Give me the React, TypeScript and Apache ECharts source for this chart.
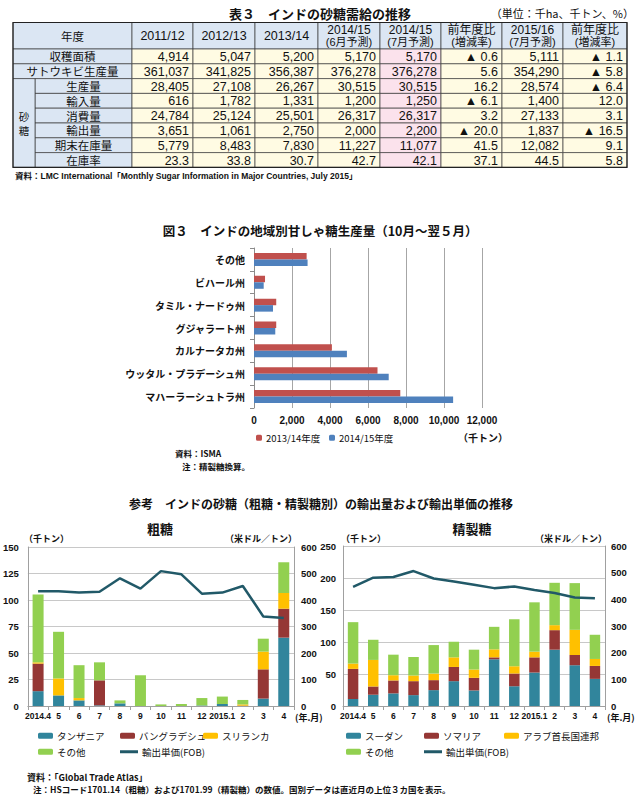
import React, { useEffect, useRef } from 'react';
import * as echarts from 'echarts';

const JP = '"Noto Sans CJK JP", "Noto Sans", sans-serif';
const NUM = '"Liberation Sans Narrow", "Liberation Sans", "Noto Sans CJK JP", sans-serif';

// ---------- Table 3 ----------
const tableTitle = '表３　インドの砂糖需給の推移';
const tableUnit = '（単位：千ha、千トン、%）';
const tableCorner = '年度';
const tableHeaders = [['2011/12'], ['2012/13'], ['2013/14'], ['2014/15', '(6月予測)'], ['2014/15', '(7月予測)'], ['前年度比', '(増減率)'], ['2015/16', '(7月予測)'], ['前年度比', '(増減率)']];
const rowLabels = ['収穫面積', 'サトウキビ生産量', '生産量', '輸入量', '消費量', '輸出量', '期末在庫量', '在庫率'];
const sugarGroupLabel = ['砂', '糖'];
const harvestArea = ['4,914', '5,047', '5,200', '5,170', '5,170', '▲ 0.6', '5,111', '▲ 1.1'];
const caneProduction = ['361,037', '341,825', '356,387', '376,278', '376,278', '5.6', '354,290', '▲ 5.8'];
const sugarProduction = ['28,405', '27,108', '26,267', '30,515', '30,515', '16.2', '28,574', '▲ 6.4'];
const sugarImports = ['616', '1,782', '1,331', '1,200', '1,250', '▲ 6.1', '1,400', '12.0'];
const sugarConsumption = ['24,784', '25,124', '25,501', '26,317', '26,317', '3.2', '27,133', '3.1'];
const sugarExports = ['3,651', '1,061', '2,750', '2,000', '2,200', '▲ 20.0', '1,837', '▲ 16.5'];
const endingStocks = ['5,779', '8,483', '7,830', '11,227', '11,077', '41.5', '12,082', '9.1'];
const stockRatio = ['23.3', '33.8', '30.7', '42.7', '42.1', '37.1', '44.5', '5.8'];
const tableSource = '資料：LMC International「Monthly Sugar Information in Major Countries, July 2015」';

// ---------- Figure 3 ----------
const fig3Title = '図３　インドの地域別甘しゃ糖生産量（10月～翌５月）';
const regions = ['その他', 'ビハール州', 'タミル・ナードゥ州', 'グジャラート州', 'カルナータカ州', 'ウッタル・プラデーシュ州', 'マハーラーシュトラ州'];
const prod1314 = [2770, 580, 1170, 1170, 4100, 6500, 7700];
const prod1415 = [2820, 510, 1000, 1120, 4890, 7090, 10480];
const fig3Names = ['2013/14年度', '2014/15年度'];
const fig3Unit = '（千トン）';
const fig3Source = '資料：ISMA';
const fig3Note = '注：精製糖換算。';

// ---------- Reference charts ----------
const refTitle = '参考　インドの砂糖（粗糖・精製糖別）の輸出量および輸出単価の推移';
const months = ['2014.4', '5', '6', '7', '8', '9', '10', '11', '12', '2015.1', '2', '3', '4'];
const rawTanzania = [14, 10, 5.3, 0.6, 2.5, 0, 0, 0, 0.5, 1.9, 0, 7, 64.5];
const rawBangladesh = [26, 0, 0, 23.6, 0, 0, 0, 0, 0, 0, 0.3, 27.6, 27.3];
const rawSriLanka = [1.2, 16, 2.2, 0, 0, 0, 0, 0, 0, 0, 1.2, 16.7, 14.8];
const rawOther = [64, 44, 31, 17, 2.8, 29, 1.5, 1.9, 7, 7, 4.2, 12.2, 29];
const rawPrice = [433, 433, 428, 431, 482, 443, 509, 497, 424, 428, 453, 338, 332];
const refSudan = [10.9, 17.6, 19.7, 17, 24.8, 38.8, 24.3, 73, 31, 52.3, 88, 63.7, 42.4];
const refSomalia = [47.1, 12.9, 20.2, 21.8, 15.6, 22.2, 19.7, 3, 19.7, 23.7, 30.5, 16, 20.2];
const refUAE = [8.3, 41.5, 8.2, 8.8, 10.3, 15, 13, 12.5, 11.3, 8.9, 7.8, 39.3, 10.9];
const refOther = [64.7, 31.5, 32.1, 29, 44.5, 24.4, 31, 35.2, 73.6, 77.1, 66.2, 73, 37.8];
const refPrice = [447, 481, 484, 506, 478, 467, 455, 442, 448, 435, 424, 407, 404];
const rawNames = ['タンザニア', 'バングラデシュ', 'スリランカ', 'その他'];
const refNames = ['スーダン', 'ソマリア', 'アラブ首長国連邦', 'その他'];
const priceName = '輸出単価(FOB)';
const footSource = '資料：「Global Trade Atlas」';
const footNote = '注：HSコード1701.14（粗糖）および1701.99（精製糖）の数値。国別データは直近月の上位３カ国を表示。';

const C_TEAL = '#31859c';
const C_RED = '#953735';
const C_YEL = '#ffc000';
const C_GRN = '#92d050';
const C_LINE = '#215968';

function buildTable(): any[] {
  const rows = [harvestArea, caneProduction, sugarProduction, sugarImports, sugarConsumption, sugarExports, endingStocks, stockRatio];
  const colX = [13, 132, 193, 255, 318, 380, 441, 502, 563, 627];
  const hTop = 22.5;
  const hBot = 49;
  const rh = 14.8;
  const blue = '#dbe6f3';
  const yellow = '#fffbe3';
  const pink = '#fbe2ec';
  const stroke = '#3a3a3a';
  const els: any[] = [];
  const cell = (x0: number, y0: number, x1: number, y1: number, fill: string) =>
    els.push({ type: 'rect', shape: { x: x0, y: y0, width: x1 - x0, height: y1 - y0 }, style: { fill, stroke, lineWidth: 0.7 } });
  const txt = (x: number, y: number, text: string, align: string, font: string, size = 12) =>
    els.push({ type: 'text', x, y, style: { text, fill: '#111', font: `${size}px ${font}`, textAlign: align, textVerticalAlign: 'middle' } });
  // header
  cell(colX[0], hTop, colX[1], hBot, blue);
  txt((colX[0] + colX[1]) / 2, (hTop + hBot) / 2, tableCorner, 'center', JP, 11.5);
  tableHeaders.forEach((h, j) => {
    cell(colX[j + 1], hTop, colX[j + 2], hBot, blue);
    const cx = (colX[j + 1] + colX[j + 2]) / 2;
    if (h.length === 1) {
      txt(cx, (hTop + hBot) / 2 + 0.5, h[0], 'center', NUM, 12.5);
    } else {
      txt(cx, hTop + 7.5, h[0], 'center', NUM, 12);
      txt(cx, hTop + 19.5, h[1], 'center', NUM, 11);
    }
  });
  rows.forEach((r, i) => {
    const y0 = hBot + i * rh;
    const y1 = y0 + rh;
    const lx = i < 2 ? colX[0] : 35;
    cell(lx, y0, colX[1], y1, blue);
    txt((lx + colX[1]) / 2, (y0 + y1) / 2, rowLabels[i], 'center', JP, 11.5);
    r.forEach((v, j) => {
      cell(colX[j + 1], y0, colX[j + 2], y1, j === 4 ? pink : yellow);
      txt(colX[j + 2] - 4, (y0 + y1) / 2 + 0.5, v, 'right', NUM, 12.5);
    });
  });
  const gy0 = hBot + 2 * rh;
  const gy1 = hBot + 8 * rh;
  cell(colX[0], gy0, 35, gy1, blue);
  const gm = (gy0 + gy1) / 2;
  txt(24, gm - 7, sugarGroupLabel[0], 'center', JP, 10.5);
  txt(24, gm + 7, sugarGroupLabel[1], 'center', JP, 10.5);
  els.push({ type: 'rect', shape: { x: colX[0], y: hTop, width: colX[9] - colX[0], height: gy1 - hTop }, style: { fill: 'none', stroke: '#222', lineWidth: 1.2 } });
  return els;
}

function text(x: number, y: number, t: string, size: number, align = 'left', weight = 'normal', font = JP) {
  return { type: 'text', x, y, style: { text: t, fill: '#111', font: `${weight} ${size}px ${font}`, textAlign: align, textVerticalAlign: 'middle' } };
}

function legendItem(name: string, left: number, top: number, w = 15, h = 6, icon?: string) {
  return {
    data: [icon ? { name, icon } : name], left, top, itemWidth: w, itemHeight: h, itemGap: 0, selectedMode: false, padding: 0,
    textStyle: { fontSize: 9.5, color: '#111', fontFamily: JP, padding: [0, 0, 0, -1] },
  };
}

const axisGray = '#a0a0a0';
const gridGray = '#c8c8c8';

export default function App() {
  const ref = useRef<HTMLDivElement>(null);
  useEffect(() => {
    if (!ref.current) return;
    const chart = echarts.init(ref.current, undefined, { renderer: 'svg' });
    const valLabel = { fontSize: 9.5, color: '#111', fontFamily: NUM, fontWeight: 'bold' };
    const catLabel = { fontSize: 8.5, color: '#111', fontFamily: NUM, fontWeight: 'bold' };
    const option: any = {
      animation: false,
      backgroundColor: '#ffffff',
      grid: [
        { left: 254, top: 248, width: 228, height: 160 },
        { left: 25, top: 547, width: 269, height: 159 },
        { left: 343, top: 546, width: 262, height: 160 },
      ],
      xAxis: [
        {
          gridIndex: 0, type: 'value', min: 0, max: 12000, interval: 2000,
          axisLine: { show: false }, axisTick: { show: false },
          splitLine: { show: true, lineStyle: { color: '#a6a6a6', width: 1 } },
          axisLabel: { ...valLabel, fontSize: 10, margin: 7, formatter: (v: number) => v.toLocaleString('en-US') },
        },
        {
          gridIndex: 1, type: 'category', data: months,
          axisLine: { lineStyle: { color: axisGray } },
          axisTick: { show: true, length: 4, lineStyle: { color: axisGray } },
          axisLabel: { ...catLabel, interval: 0, margin: 6 },
        },
        {
          gridIndex: 2, type: 'category', data: months,
          axisLine: { lineStyle: { color: axisGray } },
          axisTick: { show: true, length: 4, lineStyle: { color: axisGray } },
          axisLabel: { ...catLabel, interval: 0, margin: 6 },
        },
      ],
      yAxis: [
        {
          gridIndex: 0, type: 'category', data: regions, inverse: true,
          axisLine: { show: true, lineStyle: { color: '#8c8c8c' } },
          axisTick: { show: true, length: 4, lineStyle: { color: '#8c8c8c' } },
          axisLabel: { fontSize: 10, fontWeight: 'bold', color: '#111', fontFamily: JP, margin: 9 },
        },
        {
          gridIndex: 1, type: 'value', min: 0, max: 150, interval: 25, position: 'left',
          axisLine: { show: true, lineStyle: { color: axisGray } }, axisTick: { show: false },
          splitLine: { show: true, lineStyle: { color: gridGray } },
          axisLabel: { ...valLabel, margin: 9 },
        },
        {
          gridIndex: 1, type: 'value', min: 0, max: 600, interval: 100, position: 'right',
          axisLine: { show: true, lineStyle: { color: axisGray } }, axisTick: { show: false },
          splitLine: { show: false },
          axisLabel: { ...valLabel, margin: 7 },
        },
        {
          gridIndex: 2, type: 'value', min: 0, max: 250, interval: 50, position: 'left',
          axisLine: { show: true, lineStyle: { color: axisGray } }, axisTick: { show: false },
          splitLine: { show: true, lineStyle: { color: gridGray } },
          axisLabel: { ...valLabel, margin: 7 },
        },
        {
          gridIndex: 2, type: 'value', min: 0, max: 600, interval: 100, position: 'right',
          axisLine: { show: true, lineStyle: { color: axisGray } }, axisTick: { show: false },
          splitLine: { show: false },
          axisLabel: { ...valLabel, margin: 6 },
        },
      ],
      legend: [
        legendItem(fig3Names[0], 256, 433, 6, 6),
        legendItem(fig3Names[1], 329, 433, 6, 6),
        legendItem(rawNames[0], 38, 731),
        legendItem(rawNames[1], 120, 731),
        legendItem(rawNames[2], 203, 731),
        legendItem(rawNames[3], 38, 747),
        legendItem(priceName, 120, 747, 18, 3, 'rect'),
        legendItem(refNames[0], 346, 731),
        legendItem(refNames[1], 424, 731),
        legendItem(refNames[2], 504, 731),
        legendItem(refNames[3], 346, 747),
        legendItem(priceName, 424, 747, 18, 3, 'rect'),
      ],
      series: [
        { type: 'bar', name: fig3Names[0], xAxisIndex: 0, yAxisIndex: 0, data: prod1314, barWidth: 6.5, barGap: '0%', itemStyle: { color: '#c0504d' } },
        { type: 'bar', name: fig3Names[1], xAxisIndex: 0, yAxisIndex: 0, data: prod1415, barWidth: 6.5, barGap: '0%', itemStyle: { color: '#4f81bd' } },
        { type: 'bar', name: rawNames[0], xAxisIndex: 1, yAxisIndex: 1, stack: 'raw', data: rawTanzania, barWidth: 11, itemStyle: { color: C_TEAL } },
        { type: 'bar', name: rawNames[1], xAxisIndex: 1, yAxisIndex: 1, stack: 'raw', data: rawBangladesh, barWidth: 11, itemStyle: { color: C_RED } },
        { type: 'bar', name: rawNames[2], xAxisIndex: 1, yAxisIndex: 1, stack: 'raw', data: rawSriLanka, barWidth: 11, itemStyle: { color: C_YEL } },
        { type: 'bar', name: rawNames[3], xAxisIndex: 1, yAxisIndex: 1, stack: 'raw', data: rawOther, barWidth: 11, itemStyle: { color: C_GRN } },
        { type: 'line', name: priceName, xAxisIndex: 1, yAxisIndex: 2, data: rawPrice, symbol: 'none', z: 5, lineStyle: { color: C_LINE, width: 2.5 }, itemStyle: { color: C_LINE } },
        { type: 'bar', name: refNames[0], xAxisIndex: 2, yAxisIndex: 3, stack: 'ref', data: refSudan, barWidth: 10.5, itemStyle: { color: C_TEAL } },
        { type: 'bar', name: refNames[1], xAxisIndex: 2, yAxisIndex: 3, stack: 'ref', data: refSomalia, barWidth: 10.5, itemStyle: { color: C_RED } },
        { type: 'bar', name: refNames[2], xAxisIndex: 2, yAxisIndex: 3, stack: 'ref', data: refUAE, barWidth: 10.5, itemStyle: { color: C_YEL } },
        { type: 'bar', name: refNames[3], xAxisIndex: 2, yAxisIndex: 3, stack: 'ref', data: refOther, barWidth: 10.5, itemStyle: { color: C_GRN } },
        { type: 'line', name: priceName, xAxisIndex: 2, yAxisIndex: 4, data: refPrice, symbol: 'none', z: 5, lineStyle: { color: C_LINE, width: 2.5 }, itemStyle: { color: C_LINE } },
      ],
      graphic: [
        text(320, 13, tableTitle, 13, 'center', 'bold'),
        text(634, 13, tableUnit, 11, 'right'),
        ...buildTable(),
        text(15, 176, tableSource, 8.5, 'left', 'bold', NUM),
        text(320, 230, fig3Title, 12.5, 'center', 'bold'),
        text(458, 437, fig3Unit, 10, 'left', 'bold'),
        text(175, 453, fig3Source, 8.5, 'left', 'bold'),
        text(182, 466, fig3Note, 8.5, 'left', 'bold'),
        text(321, 503, refTitle, 12, 'center', 'bold'),
        text(160, 528, '粗糖', 13, 'center', 'bold'),
        text(472, 528, '精製糖', 13, 'center', 'bold'),
        text(24, 538, '（千トン）', 9, 'left', 'bold'),
        text(297, 538, '（米ドル／トン）', 9, 'right', 'bold'),
        text(341, 538, '（千トン）', 9, 'left', 'bold'),
        text(607, 538, '（米ドル／トン）', 9, 'right', 'bold'),
        text(295, 717, '(年.月)', 9, 'left', 'bold'),
        text(607, 717, '(年.月)', 9, 'left', 'bold'),
        text(27, 777, footSource, 9, 'left', 'bold'),
        text(33, 789, footNote, 8.5, 'left', 'bold'),
      ],
    };
    chart.setOption(option);
    return () => chart.dispose();
  }, []);
  return <div ref={ref} style={{ position: 'absolute', left: 0, top: 0, width: 640, height: 795 }} />;
}
